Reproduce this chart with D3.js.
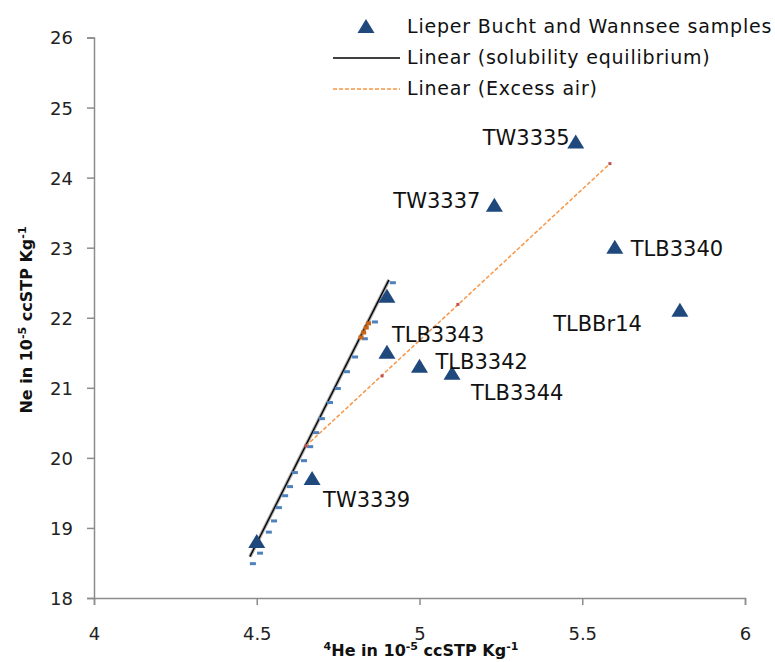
<!DOCTYPE html>
<html>
<head>
<meta charset="utf-8">
<script src="https://cdn.jsdelivr.net/npm/d3@7"></script>
<style>
  body { margin: 0; background: #ffffff; }
  text { font-family: "DejaVu Sans", sans-serif; }
</style>
</head>
<body>
<div id="canvas"></div>
<script>
// samples (triangles)
const sampleNames = ['TW3335', 'TW3337', 'TLB3340', 'TLBBr14', '', 'TLB3343', 'TLB3342', 'TLB3344', 'TW3339', ''];
const sampleHe = [5.48, 5.23, 5.60, 5.80, 4.90, 4.90, 5.00, 5.10, 4.67, 4.50];
const sampleNe = [24.5, 23.6, 23.0, 22.1, 22.3, 21.5, 21.3, 21.2, 19.7, 18.8];

// solubility equilibrium points (small dashes)
const eqHe = [4.912, 4.857, 4.826, 4.796, 4.771, 4.743, 4.719, 4.694, 4.676, 4.658, 4.639, 4.611, 4.596, 4.581, 4.562, 4.547, 4.531, 4.504, 4.482];
const eqNe = [22.50, 21.94, 21.70, 21.44, 21.23, 20.99, 20.79, 20.56, 20.36, 20.16, 19.96, 19.79, 19.59, 19.46, 19.29, 19.10, 18.94, 18.64, 18.49];
const eqOrangeHe = [4.822, 4.830, 4.838, 4.845];
const eqOrangeNe = [21.72, 21.79, 21.86, 21.92];

// excess air points
const excessHe = [4.651, 4.885, 5.118, 5.585];
const excessNe = [20.17, 21.17, 22.19, 24.20];

// trend lines (end points)
const solLineHe = [4.479, 4.906];
const solLineNe = [18.59, 22.54];
const excessLineHe = [4.651, 5.585];
const excessLineNe = [20.17, 24.20];

const xTicks = [4, 4.5, 5, 5.5, 6];
const yTicks = [18, 19, 20, 21, 22, 23, 24, 25, 26];

const w = 775,
    h = 662,
    axisCol = '#8c8c8c',
    triCol = '#1f497d',
    dashCol = '#4f81bd',
    svg = d3.select('#canvas').append('svg')
        .attr('width', w)
        .attr('height', h);

const x = d3.scaleLinear().domain([4, 6]).range([94, 745]);
const y = d3.scaleLinear().domain([18, 26]).range([598, 37.5]);

// axes
const xAxis = svg.append('g')
    .attr('transform', 'translate(0,' + y(18) + ')')
    .call(d3.axisBottom(x).tickValues(xTicks).tickSize(7).tickPadding(22).tickFormat(d => d));
const yAxis = svg.append('g')
    .attr('transform', 'translate(' + x(4) + ',0)')
    .call(d3.axisLeft(y).tickValues(yTicks).tickSize(7).tickPadding(14).tickFormat(d => d));

[xAxis, yAxis].forEach(a => {
    a.select('.domain').attr('stroke', axisCol).attr('stroke-width', 1.5);
    a.selectAll('.tick line').attr('stroke', axisCol).attr('stroke-width', 1.5);
    a.selectAll('.tick text')
        .attr('font-family', '"DejaVu Sans", sans-serif')
        .attr('font-size', '18px')
        .attr('fill', '#222');
});
yAxis.selectAll('.tick text').attr('dy', '0.36em');

// axis titles
const yTitle = svg.append('text')
    .attr('transform', 'translate(32,320)rotate(-90)')
    .attr('text-anchor', 'middle')
    .attr('font-family', '"Liberation Sans", sans-serif')
    .attr('font-weight', 'bold')
    .attr('font-size', '16px')
    .attr('fill', '#111');
yTitle.append('tspan').text('Ne in 10');
yTitle.append('tspan').attr('dy', -6).attr('font-size', '11px').text('-5');
yTitle.append('tspan').attr('dy', 6).text(' ccSTP  Kg');
yTitle.append('tspan').attr('dy', -6).attr('font-size', '11px').text('-1');

const xTitle = svg.append('text')
    .attr('x', 421)
    .attr('y', 656)
    .attr('text-anchor', 'middle')
    .attr('font-family', '"Liberation Sans", sans-serif')
    .attr('font-weight', 'bold')
    .attr('font-size', '16px')
    .attr('fill', '#111');
xTitle.append('tspan').attr('dy', -6).attr('font-size', '11px').text('4');
xTitle.append('tspan').attr('dy', 6).text('He in 10');
xTitle.append('tspan').attr('dy', -6).attr('font-size', '11px').text('-5');
xTitle.append('tspan').attr('dy', 6).text(' ccSTP  Kg');
xTitle.append('tspan').attr('dy', -6).attr('font-size', '11px').text('-1');

// solubility equilibrium trend line
const solPts = solLineHe.map((d, i) => [x(d), y(solLineNe[i])]);
svg.append('path')
    .attr('d', d3.line()(solPts))
    .attr('stroke', '#aaa')
    .attr('stroke-width', 3.5)
    .attr('fill', 'none');
svg.append('path')
    .attr('d', d3.line()(solPts))
    .attr('stroke', '#000')
    .attr('stroke-width', 1.3)
    .attr('fill', 'none');

// excess air trend line
svg.append('path')
    .attr('d', d3.line()(excessLineHe.map((d, i) => [x(d), y(excessLineNe[i])])))
    .attr('stroke', '#f79646')
    .attr('stroke-width', 1.5)
    .attr('stroke-dasharray', '4,2')
    .attr('fill', 'none');

// equilibrium dashes
svg.selectAll('.eq')
    .data(eqHe)
    .enter().append('rect')
    .attr('x', (d, i) => x(d) - 1)
    .attr('y', (d, i) => y(eqNe[i]) - 1.5)
    .attr('width', 6)
    .attr('height', 3)
    .attr('fill', dashCol);

svg.selectAll('.eqo')
    .data(eqOrangeHe)
    .enter().append('rect')
    .attr('x', (d, i) => x(d) - 3)
    .attr('y', (d, i) => y(eqOrangeNe[i]) - 2)
    .attr('width', 5)
    .attr('height', 4)
    .attr('fill', '#c86414');

// excess air points
svg.selectAll('.ex')
    .data(excessHe)
    .enter().append('rect')
    .attr('x', d => x(d) - 1.5)
    .attr('y', (d, i) => y(excessNe[i]) - 1.5)
    .attr('width', 3)
    .attr('height', 3)
    .attr('fill', '#c0504d');

// sample triangles
const tri = 'M0,-8L8.5,6L-8.5,6Z';
svg.selectAll('.tri')
    .data(sampleHe)
    .enter().append('path')
    .attr('d', tri)
    .attr('transform', (d, i) => 'translate(' + x(d) + ',' + y(sampleNe[i]) + ')')
    .attr('fill', triCol);

// sample labels: [anchor, dx, dy]
const labelPlace = {
    TW3335: ['end', -6, 2],
    TW3337: ['end', -14, 2],
    TLB3340: ['start', 16, 8],
    TLBBr14: ['end', -38, 20],
    TLB3343: ['start', 5, -11],
    TLB3342: ['start', 16, 2],
    TLB3344: ['start', 19, 26],
    TW3339: ['start', 11, 28]
};
sampleNames.forEach((name, i) => {
    if (!name) return;
    const p = labelPlace[name];
    svg.append('text')
        .attr('x', x(sampleHe[i]) + p[1])
        .attr('y', y(sampleNe[i]) + p[2])
        .attr('text-anchor', p[0])
        .attr('font-size', '21px')
        .attr('fill', '#111')
        .text(name);
});

// legend
const legend = svg.append('g');
legend.append('path')
    .attr('d', tri)
    .attr('transform', 'translate(366,27)')
    .attr('fill', triCol);
legend.append('line')
    .attr('x1', 333).attr('x2', 400)
    .attr('y1', 58).attr('y2', 58)
    .attr('stroke', '#000')
    .attr('stroke-width', 1.5);
legend.append('line')
    .attr('x1', 333).attr('x2', 400)
    .attr('y1', 89).attr('y2', 89)
    .attr('stroke', '#f79646')
    .attr('stroke-width', 1.5)
    .attr('stroke-dasharray', '4,2');
const legendLabels = ['Lieper Bucht and Wannsee samples', 'Linear (solubility equilibrium)', 'Linear (Excess air)'];
legend.selectAll('.lt')
    .data(legendLabels)
    .enter().append('text')
    .attr('x', 407)
    .attr('y', (d, i) => 33 + i * 31)
    .attr('font-size', '19px')
    .attr('letter-spacing', '0.8px')
    .attr('fill', '#111')
    .text(d => d);
</script>
</body>
</html>
